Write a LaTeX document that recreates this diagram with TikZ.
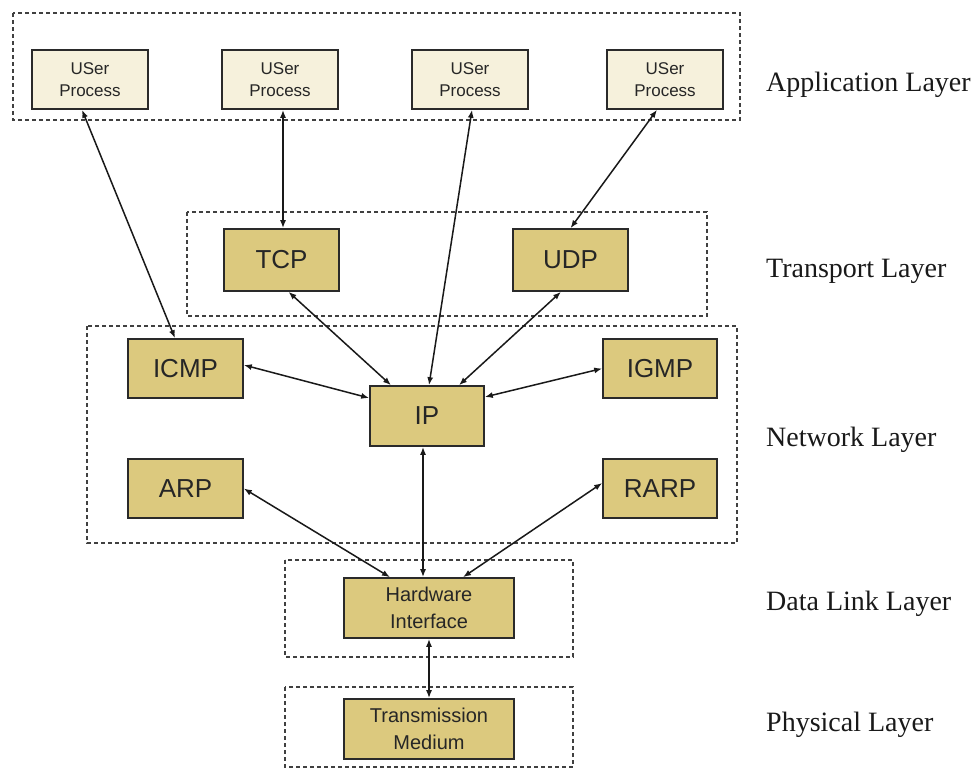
\documentclass[tikz,border=0pt]{standalone}
\usepackage{fontspec}
\setmainfont{Liberation Sans}
\newfontfamily\layerfont{Liberation Serif}
\usetikzlibrary{arrows.meta}
\definecolor{procfill}{HTML}{F6F1DC}
\definecolor{protofill}{HTML}{DCC97E}
\definecolor{edgecol}{HTML}{2A2A2A}
\begin{document}
\begin{tikzpicture}[x=1pt,y=-1pt,
  box/.style={draw=edgecol, line width=1.6pt, inner sep=0pt, align=center, text=black!85},
  procbox/.style={box, fill=procfill, minimum width=116pt, minimum height=59pt,
    font=\fontsize{17}{22}\selectfont},
  protobox/.style={box, fill=protofill, minimum width=115pt, minimum height=60pt,
    font=\fontsize{26}{30}\selectfont},
  linkbox/.style={box, fill=protofill, minimum width=170pt, minimum height=60pt,
    font=\fontsize{20}{27}\selectfont},
  layerbox/.style={draw=black!75, line width=1.2pt, dash pattern=on 4pt off 3pt},
  layerlabel/.style={anchor=base west, inner sep=0pt, text=black!90,
    font=\layerfont\fontsize{28}{32}\selectfont},
  link/.style={{Latex[length=8pt,width=6pt]}-{Latex[length=8pt,width=6pt]},
    line width=1.5pt, draw=black!90}
]
\useasboundingbox (0,0) rectangle (980,769);
\fill[white] (0,0) rectangle (980,769);

% layer frames
\draw[layerbox] (13,13) rectangle (740,120);
\draw[layerbox] (187,212) rectangle (707,316);
\draw[layerbox] (87,326) rectangle (737,543);
\draw[layerbox] (285,560) rectangle (573,657);
\draw[layerbox] (285,687) rectangle (573,767);

% application layer
\node[procbox] (up1) at (90,79.5) {USer\\Process};
\node[procbox] (up2) at (280,79.5) {USer\\Process};
\node[procbox] (up3) at (470,79.5) {USer\\Process};
\node[procbox] (up4) at (665,79.5) {USer\\Process};

% transport layer
\node[protobox, minimum height=62pt] (tcp) at (281.5,260) {TCP};
\node[protobox, minimum height=62pt] (udp) at (570.5,260) {UDP};

% network layer
\node[protobox, minimum height=59pt] (icmp) at (185.5,368.5) {ICMP};
\node[protobox, minimum width=114pt] (ip) at (427,416) {IP};
\node[protobox, minimum width=114pt, minimum height=59pt] (igmp) at (660,368.5) {IGMP};
\node[protobox, minimum height=59pt] (arp) at (185.5,488.5) {ARP};
\node[protobox, minimum width=114pt, minimum height=59pt] (rarp) at (660,488.5) {RARP};

% data link and physical layers
\node[linkbox] (hw) at (429,608) {Hardware\\Interface};
\node[linkbox] (tm) at (429,729) {Transmission\\Medium};

% layer names
\node[layerlabel] (lapp) at (766,91) {Application Layer};
\node[layerlabel] (ltra) at (766,277) {Transport Layer};
\node[layerlabel] (lnet) at (766,446) {Network Layer};
\node[layerlabel] (ldl)  at (766,610) {Data Link Layer};
\node[layerlabel] (lphy) at (766,731) {Physical Layer};

% connectors
\draw[link] ([xshift=-8pt]up1.south) -- ([xshift=-10.5pt]icmp.north);
\draw[link] ([xshift=3pt]up2.south) -- ([xshift=1.5pt]tcp.north);
\draw[link] ([xshift=2pt]up3.south) -- ([xshift=2pt]ip.north);
\draw[link] ([xshift=-8pt]up4.south) -- ([xshift=0pt]udp.north);
\draw[link] ([xshift=7pt]tcp.south) -- ([xshift=-36pt]ip.north);
\draw[link] ([xshift=-9.5pt]udp.south) -- ([xshift=32pt]ip.north);
\draw[link] ([yshift=3.5pt]icmp.east) -- ([yshift=18pt]ip.west);
\draw[link] (igmp.west) -- ([yshift=19pt]ip.east);
\draw[link] (arp.east) -- ([xshift=-39pt]hw.north);
\draw[link] ([xshift=-4pt]ip.south) -- ([xshift=-6pt]hw.north);
\draw[link] ([yshift=5.5pt]rarp.west) -- ([xshift=34pt]hw.north);
\draw[link] (hw.south) -- (tm.north);
\end{tikzpicture}
\end{document}
